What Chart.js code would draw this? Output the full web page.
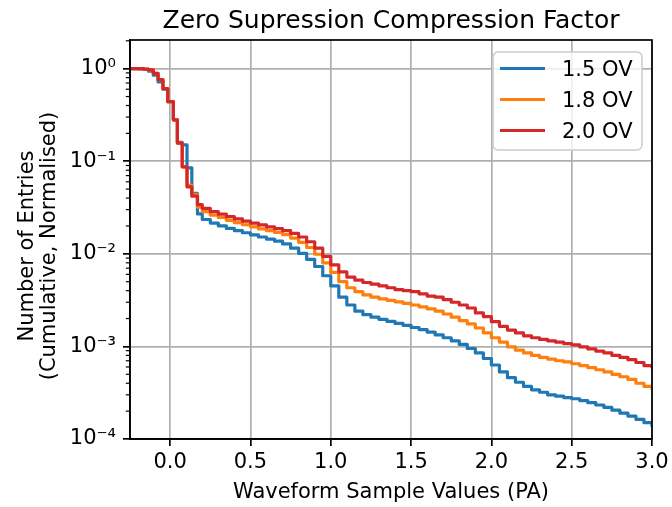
<!DOCTYPE html>
<html>
<head>
<meta charset="utf-8">
<script src="https://cdn.jsdelivr.net/npm/chart.js@4.4.0/dist/chart.umd.min.js"></script>
<style>
  html, body { margin: 0; padding: 0; background: #fff; }
</style>
</head>
<body>
<canvas id="chart" width="672" height="507"></canvas>
<script>
// bin start positions (PA)
const xVals = [
    -0.25, -0.2, -0.165, -0.135, -0.105, -0.075, -0.045, -0.015, 0.02, 0.045, 0.075, 0.105, 0.135, 0.17,
    0.2, 0.25, 0.3, 0.35, 0.4, 0.45, 0.5, 0.55, 0.6, 0.65, 0.7, 0.75, 0.8, 0.85, 0.9, 0.95,
    1.0, 1.05, 1.1, 1.15, 1.2, 1.25, 1.3, 1.35, 1.4, 1.45, 1.5, 1.55, 1.6, 1.65, 1.7, 1.75,
    1.8, 1.85, 1.9, 1.95, 2.0, 2.05, 2.1, 2.15, 2.2, 2.25, 2.3, 2.35, 2.4, 2.45, 2.5, 2.55,
    2.6, 2.65, 2.7, 2.75, 2.8, 2.85, 2.9, 2.95, 3.0
];

const ov15 = [
    1.0, 0.995, 0.98, 0.94, 0.85, 0.72, 0.6, 0.44, 0.28, 0.16, 0.15, 0.085, 0.045, 0.027,
    0.0235, 0.0215, 0.0200, 0.0188, 0.0178, 0.0169, 0.0160, 0.0152, 0.0144, 0.0137, 0.0128, 0.0115, 0.0101, 0.0087, 0.0073, 0.0058,
    0.0045, 0.0034, 0.0028, 0.0024, 0.0022, 0.00207, 0.00196, 0.00186, 0.00177, 0.00169, 0.0016, 0.00152, 0.00143, 0.00133, 0.00124, 0.00115,
    0.00105, 0.00095, 0.00085, 0.00074, 0.00063, 0.00053, 0.00046, 0.00041, 0.00037, 0.00034, 0.00032, 0.0003, 0.00029, 0.00028, 0.000272, 0.00026,
    0.000247, 0.000233, 0.00022, 0.000205, 0.00019, 0.000177, 0.000163, 0.00015, 0.000136
];

const ov18 = [
    1.0, 1.0, 0.99, 0.97, 0.89, 0.76, 0.61, 0.44, 0.28, 0.157, 0.087, 0.055, 0.044, 0.032,
    0.0286, 0.0262, 0.0247, 0.0230, 0.0217, 0.0206, 0.0196, 0.0186, 0.0178, 0.0170, 0.0161, 0.0148, 0.0133, 0.0117, 0.0099, 0.0080,
    0.0063, 0.0050, 0.0043, 0.0039, 0.0036, 0.0034, 0.00327, 0.00315, 0.00303, 0.00292, 0.0028, 0.00268, 0.00255, 0.0024, 0.00224, 0.00207,
    0.0019, 0.00175, 0.00158, 0.0014, 0.00124, 0.00111, 0.00099, 0.00091, 0.00085, 0.0008, 0.00076, 0.00073, 0.0007, 0.00068, 0.00065, 0.00062,
    0.00059, 0.00056, 0.00053, 0.0005, 0.00047, 0.00044, 0.0004, 0.00037, 0.00034
];

const ov20 = [
    1.0, 1.0, 0.99, 0.97, 0.89, 0.76, 0.61, 0.44, 0.28, 0.157, 0.087, 0.053, 0.042, 0.034,
    0.031, 0.0285, 0.0268, 0.0252, 0.0238, 0.0226, 0.0215, 0.0205, 0.0196, 0.0187, 0.0178, 0.0166, 0.0152, 0.0135, 0.0115, 0.0094,
    0.0076, 0.0064, 0.0056, 0.0052, 0.0049, 0.0047, 0.0045, 0.0043, 0.0041, 0.0040, 0.0039, 0.0037, 0.0035, 0.0034, 0.0032, 0.0030,
    0.0028, 0.0026, 0.0023, 0.0021, 0.00185, 0.00165, 0.0015, 0.0014, 0.0013, 0.00124, 0.00119, 0.00115, 0.00111, 0.00107, 0.00104, 0.00099,
    0.00094, 0.00089, 0.00085, 0.0008, 0.00076, 0.00072, 0.00067, 0.00062, 0.00058
];

const seriesLabels = ["1.5 OV", "1.8 OV", "2.0 OV"];
const seriesColors = ["#1f77b4", "#ff7f0e", "#d62728"];
const xTicks = [0, 0.5, 1.0, 1.5, 2.0, 2.5, 3.0];
const yTicks = [1e-4, 1e-3, 1e-2, 1e-1, 1];
const yTickLabels = ["10\u207B\u2074", "10\u207B\u00B3", "10\u207B\u00B2", "10\u207B\u00B9", "10\u2070"];

const titleText = "Zero Supression Compression Factor";
const xTitle = "Waveform Sample Values (PA)";
const yTitle = ["Number of Entries", "(Cumulative, Normalised)"];

const FONT = '"DejaVu Sans", sans-serif';

function toPoints(ys) {
    return xVals.map((x, i) => ({ x: x, y: ys[i] }));
}

const extras = {
    id: "extras",
    afterDatasetsDraw(chart) {
        const ctx = chart.ctx, a = chart.chartArea, y = chart.scales.y;
        ctx.save();
        // minor log ticks on the left
        ctx.strokeStyle = "#000";
        ctx.lineWidth = 1.2;
        for (let d = -4; d <= 0; d++) {
            for (let k = 2; k <= 9; k++) {
                const v = k * Math.pow(10, d);
                if (v >= y.max) continue;
                const py = y.getPixelForValue(v);
                ctx.beginPath();
                ctx.moveTo(a.left, py);
                ctx.lineTo(a.left - 4.2, py);
                ctx.stroke();
            }
        }
        // all four spines
        ctx.lineWidth = 1.7;
        ctx.strokeRect(a.left, a.top, a.right - a.left, a.bottom - a.top);
        ctx.restore();
    },
    afterDraw(chart) {
        const ctx = chart.ctx, a = chart.chartArea;
        const cx = (a.left + a.right) / 2;
        ctx.save();
        ctx.fillStyle = "#000";

        // title
        ctx.font = "25px " + FONT;
        ctx.textAlign = "center";
        ctx.textBaseline = "alphabetic";
        ctx.fillText(titleText, cx, 28);

        // x title
        ctx.font = "21px " + FONT;
        ctx.fillText(xTitle, cx, 498);

        // y title, two lines
        const ymid = 246;
        [33, 55].forEach((bx, i) => {
            ctx.save();
            ctx.translate(bx, ymid);
            ctx.rotate(-Math.PI / 2);
            ctx.fillText(yTitle[i], 0, 0);
            ctx.restore();
        });

        // legend
        const lx = 493, ly = 52, lw = 149, lh = 98, r = 5;
        ctx.beginPath();
        ctx.moveTo(lx + r, ly);
        ctx.arcTo(lx + lw, ly, lx + lw, ly + lh, r);
        ctx.arcTo(lx + lw, ly + lh, lx, ly + lh, r);
        ctx.arcTo(lx, ly + lh, lx, ly, r);
        ctx.arcTo(lx, ly, lx + lw, ly, r);
        ctx.closePath();
        ctx.fillStyle = "rgba(255,255,255,0.8)";
        ctx.fill();
        ctx.strokeStyle = "#cccccc";
        ctx.lineWidth = 1.5;
        ctx.stroke();

        ctx.textAlign = "left";
        chart.data.datasets.forEach((ds, i) => {
            const rowY = 68.5 + i * 31;
            ctx.strokeStyle = ds.borderColor;
            ctx.lineWidth = 3.2;
            ctx.lineCap = "butt";
            ctx.beginPath();
            ctx.moveTo(500, rowY);
            ctx.lineTo(545, rowY);
            ctx.stroke();
            ctx.fillStyle = "#000";
            ctx.fillText(ds.label, 562, rowY + 7.5);
        });
        ctx.restore();
    }
};

new Chart(document.getElementById("chart"), {
    type: "line",
    data: {
        datasets: [ov15, ov18, ov20].map((ys, i) => ({
            label: seriesLabels[i],
            data: toPoints(ys),
            borderColor: seriesColors[i],
            backgroundColor: seriesColors[i],
            borderWidth: 3.2,
            pointRadius: 0,
            stepped: true,
            fill: false,
            borderJoinStyle: "round",
            clip: 0,
            order: 2 - i   // last series on top, like matplotlib
        }))
    },
    options: {
        responsive: false,
        animation: false,
        devicePixelRatio: 1,
        layout: { padding: { top: 40, right: 20, left: 0, bottom: 0 } },
        plugins: {
            legend: { display: false },
            title: { display: false },
            tooltip: { enabled: false }
        },
        scales: {
            x: {
                type: "linear",
                min: -0.25,
                max: 3.0,
                afterBuildTicks: s => { s.ticks = xTicks.map(v => ({ value: v })); },
                afterFit: s => { s.height = 68; s.paddingLeft = 0; s.paddingRight = 0; },
                ticks: {
                    callback: v => Number(v).toFixed(1),
                    font: { family: FONT, size: 21 },
                    color: "#000",
                    padding: 4,
                    maxRotation: 0,
                    autoSkip: false
                },
                grid: { color: "#b0b0b0", lineWidth: 1.7, tickColor: "#000", tickLength: 7, tickWidth: 1.7 },
                border: { color: "#000", width: 1.7 }
            },
            y: {
                type: "logarithmic",
                min: 1e-4,
                max: 2.04,
                afterBuildTicks: s => { s.ticks = yTicks.map(v => ({ value: v })); },
                afterFit: s => { s.width = 130; s.paddingTop = 0; s.paddingBottom = 0; },
                ticks: {
                    callback: (v, i) => yTickLabels[i],
                    font: { family: FONT, size: 21 },
                    color: "#000",
                    padding: 7,
                    autoSkip: false
                },
                grid: { color: "#b0b0b0", lineWidth: 1.7, tickColor: "#000", tickLength: 7, tickWidth: 1.7 },
                border: { color: "#000", width: 1.7 }
            }
        }
    },
    plugins: [extras]
});
</script>
</body>
</html>
